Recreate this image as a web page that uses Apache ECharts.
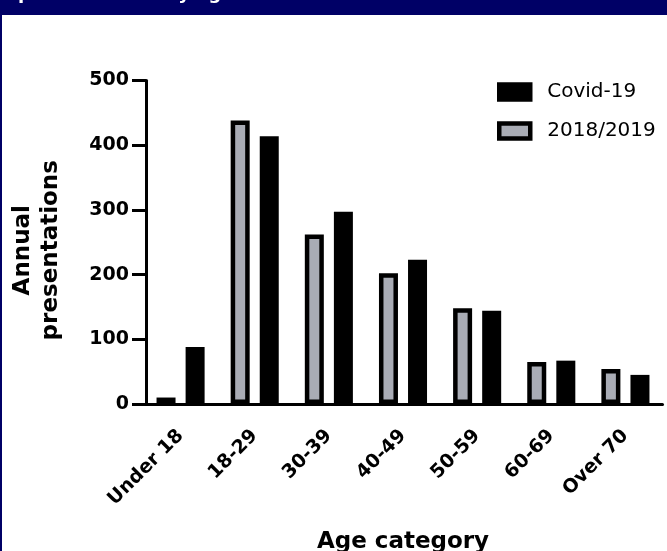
<!DOCTYPE html>
<html>
<head>
<meta charset="utf-8">
<script src="https://cdn.jsdelivr.net/npm/echarts@6/dist/echarts.min.js"></script>
<style>
  html, body { margin: 0; padding: 0; background: #000066; overflow: hidden; }
  #panel { position: absolute; left: 2px; top: 15px; width: 665px; height: 536px; background: #ffffff; }
  #chart { position: absolute; left: 0; top: 0; width: 667px; height: 551px; }
</style>
</head>
<body>
<div id="panel"></div>
<div id="chart"></div>
<script>
// Age bands on the category axis
const categories = ['Under 18', '18-29', '30-39', '40-49', '50-59', '60-69', 'Over 70'];
// Annual presentations, 2018/2019 baseline
const baseline1819 = [10, 438, 262, 202, 148, 65, 54];
// Annual presentations, Covid-19 year
const covid19 = [88, 414, 297, 223, 144, 67, 45];
// Value axis ticks
const yTicks = [0, 100, 200, 300, 400, 500];

const FONT = 'DejaVu Sans';
const chart = echarts.init(document.getElementById('chart'), null, { renderer: 'canvas' });

chart.setOption({
  animation: false,
  graphic: [{
    type: 'text',
    x: 18,
    y: 3,
    style: {
      text: 'presentations by age',
      fill: '#ffffff',
      font: 'bold 18px "DejaVu Sans"',
      verticalAlign: 'bottom'
    }
  }],
  legend: {
    left: 497,
    top: 82,
    padding: 0,
    orient: 'vertical',
    icon: 'rect',
    itemWidth: 31,
    itemHeight: 15,
    itemGap: 19,
    itemStyle: { borderWidth: 4.5, borderColor: '#000' },
    textStyle: { fontFamily: FONT, fontSize: 20, color: '#000', lineHeight: 15, padding: [0, 0, 0, 12] },
    data: ['Covid-19', '2018/2019']
  },
  grid: { left: 143.5, right: 4.5, top: 80.5, bottom: 147, containLabel: false, outerBoundsMode: 'none' },
  xAxis: {
    type: 'category',
    data: categories,
    name: 'Age category',
    nameLocation: 'middle',
    nameGap: 127,
    nameTextStyle: { fontFamily: FONT, fontWeight: 'bold', fontSize: 23, color: '#000' },
    axisLine: { lineStyle: { color: '#000', width: 3 } },
    axisTick: { alignWithLabel: true, length: 14, lineStyle: { color: '#000', width: 3 } },
    axisLabel: { interval: 0, rotate: 45, margin: 29, fontFamily: FONT, fontWeight: 'bold', fontSize: 19, color: '#000' }
  },
  yAxis: {
    type: 'value',
    min: yTicks[0],
    max: yTicks[yTicks.length - 1],
    interval: yTicks[1] - yTicks[0],
    offset: -2.5,
    name: 'Annual\npresentations',
    nameLocation: 'middle',
    nameRotate: 90,
    nameGap: 81,
    nameTextStyle: { fontFamily: FONT, fontWeight: 'bold', fontSize: 23, lineHeight: 28, color: '#000', align: 'center', padding: [0, 16, 0, 0] },
    splitLine: { show: false },
    axisLine: { show: true, lineStyle: { color: '#000', width: 3 } },
    axisTick: { show: true, length: 14, lineStyle: { color: '#000', width: 3 } },
    axisLabel: { margin: 17, fontFamily: FONT, fontWeight: 'bold', fontSize: 19, color: '#000' }
  },
  series: [
    {
      name: '2018/2019',
      type: 'bar',
      data: baseline1819,
      barWidth: 19,
      barGap: '53%',
      itemStyle: { color: '#a9acb5', borderColor: '#000', borderWidth: 4.5 }
    },
    {
      name: 'Covid-19',
      type: 'bar',
      data: covid19,
      barWidth: 19,
      itemStyle: { color: '#000' }
    }
  ]
});
</script>
</body>
</html>
